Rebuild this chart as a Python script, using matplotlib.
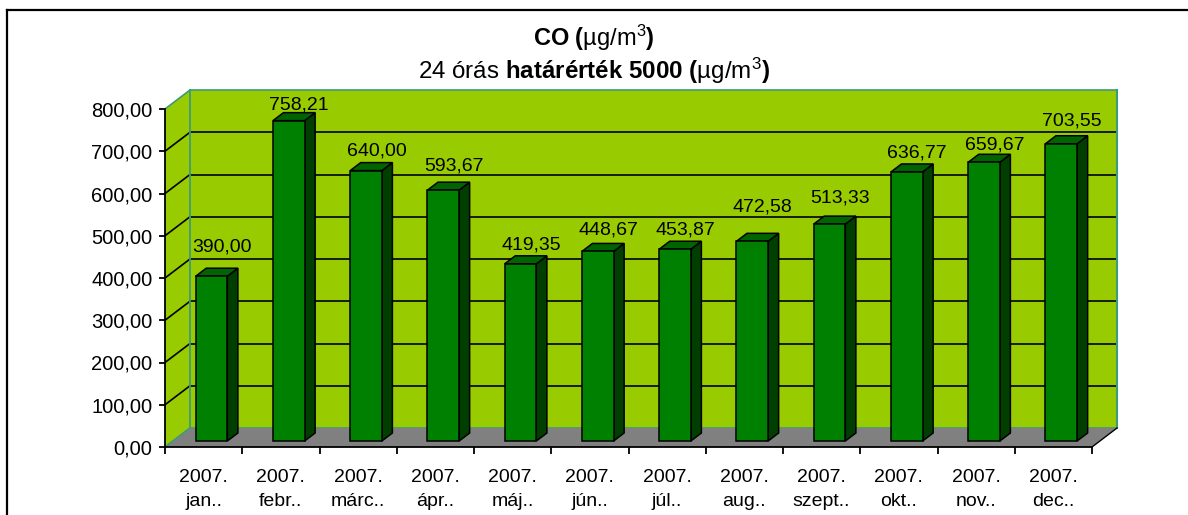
import matplotlib
matplotlib.use("Agg")
import matplotlib.pyplot as plt
from matplotlib.patches import Polygon
from matplotlib.lines import Line2D

# ---- data ----
months = ["jan..", "febr..", "márc..", "ápr..", "máj..", "jún..",
          "júl..", "aug..", "szept..", "okt..", "nov..", "dec.."]
year = "2007."
values = [390.00, 758.21, 640.00, 593.67, 419.35, 448.67,
          453.87, 472.58, 513.33, 636.77, 659.67, 703.55]
value_labels = ["390,00", "758,21", "640,00", "593,67", "419,35", "448,67",
                "453,87", "472,58", "513,33", "636,77", "659,67", "703,55"]
yticks = [0, 100, 200, 300, 400, 500, 600, 700, 800]
ytick_labels = ["0,00", "100,00", "200,00", "300,00", "400,00",
                "500,00", "600,00", "700,00", "800,00"]
# label gap above bar top (pixels), as placed in the original
label_gap_px = [16.6, 3.4, 6.6, 11.4, 6.0, 8.7, 6.7, 21.7, 13.3, 6.0, 5.0, 10.0]

plt.rcParams['font.family'] = ['Liberation Sans', 'DejaVu Sans']
plt.rcParams['mathtext.fontset'] = 'custom'
plt.rcParams['mathtext.rm'] = 'Liberation Sans'
plt.rcParams['mathtext.it'] = 'Liberation Sans:italic'
plt.rcParams['mathtext.bf'] = 'Liberation Sans:bold'

W, H = 1188, 515
fig = plt.figure(figsize=(W / 100, H / 100), dpi=100)
fig.patch.set_facecolor('white')

x0, x1, y0, y1 = 165, 1092, 447, 109
ax = fig.add_axes([x0 / W, (H - y0) / H, (x1 - x0) / W, (y0 - y1) / H])
n = len(values)
ax.set_xlim(0, n)
ax.set_ylim(0, 800)
ax.set_facecolor('none')

DX = 25 / ((x1 - x0) / n)          # depth offset in category units
DY = 19 / ((y0 - y1) / 800)        # depth offset in value units
wall = '#99CC00'
teal = '#3C9C78'
floor = '#808080'

# back wall
ax.add_patch(Polygon([(DX, DY), (n + DX, DY), (n + DX, 800 + DY), (DX, 800 + DY)],
                     closed=True, facecolor=wall, edgecolor='none', clip_on=False, zorder=1))
# side wall
ax.add_patch(Polygon([(0, 0), (DX, DY), (DX, 800 + DY), (0, 800)],
                     closed=True, facecolor=wall, edgecolor='none', clip_on=False, zorder=1))
# gridlines
for g in yticks:
    col = 'black' if 0 < g < 800 else teal
    ax.add_line(Line2D([DX, n + DX], [g + DY, g + DY], color=col, lw=1.2,
                       clip_on=False, zorder=2))
    ax.add_line(Line2D([0, DX], [g, g + DY], color=col, lw=1.2,
                       clip_on=False, zorder=2))
# wall edges
ax.add_line(Line2D([DX, DX], [DY, 800 + DY], color=teal, lw=1.3, clip_on=False, zorder=2))
ax.add_line(Line2D([n + DX, n + DX], [DY, 800 + DY], color=teal, lw=1.5, clip_on=False, zorder=2))
# floor
ax.add_patch(Polygon([(0, 0), (DX, DY), (n + DX, DY), (n, 0)],
                     closed=True, facecolor=floor, edgecolor='none', clip_on=False, zorder=3))
ax.add_line(Line2D([n, n + DX], [0, DY], color='black', lw=1.0, clip_on=False, zorder=3))
ax.add_line(Line2D([0, DX], [0, DY], color=teal, lw=1.0, clip_on=False, zorder=3))

# bars
hw = 0.205
f0, f1 = 0.316, 0.737
front_c, side_c, top_c = '#008000', '#003F00', '#006400'
for k, v in enumerate(values):
    c = k + 0.5
    xl, xr = c - hw, c + hw
    a0x, a0y = f0 * DX, f0 * DY
    a1x, a1y = f1 * DX, f1 * DY
    front = [(xl + a0x, a0y), (xr + a0x, a0y), (xr + a0x, v + a0y), (xl + a0x, v + a0y)]
    side = [(xr + a0x, a0y), (xr + a1x, a1y), (xr + a1x, v + a1y), (xr + a0x, v + a0y)]
    top = [(xl + a0x, v + a0y), (xr + a0x, v + a0y), (xr + a1x, v + a1y), (xl + a1x, v + a1y)]
    for pts, col in ((side, side_c), (top, top_c), (front, front_c)):
        ax.add_patch(Polygon(pts, closed=True, facecolor=col, edgecolor='black',
                             lw=1.1, joinstyle='miter', clip_on=False, zorder=5))
    ax.annotate(value_labels[k], xy=(c + a1x, v + a1y), xytext=(0, label_gap_px[k]),
                textcoords='offset pixels', ha='center', va='baseline',
                fontsize=14, color='black', zorder=6, annotation_clip=False)

# axes
for s in ('top', 'right'):
    ax.spines[s].set_visible(False)
for s in ('left', 'bottom'):
    ax.spines[s].set_linewidth(1.3)
    ax.spines[s].set_zorder(7)
ax.set_yticks(yticks)
ax.set_yticklabels(ytick_labels, fontsize=14.5)
ax.set_xticks(range(n + 1))
ax.set_xticklabels([])
ax.set_xticks([k + 0.5 for k in range(n)], minor=True)
ax.set_xticklabels([f"{year}\n{m}" for m in months], minor=True, fontsize=14,
                   linespacing=1.6)
ax.tick_params(axis='y', which='major', length=4, width=1.3, direction='out', pad=5)
ax.tick_params(axis='x', which='major', length=5, width=1.3, direction='out')
ax.tick_params(axis='x', which='minor', length=0, pad=15.5)

# titles
fig.text(0.5, (H - 45.5) / H,
         r"$\mathbf{CO\ (}\mathrm{µg/m}^{3}\mathbf{)}$",
         ha='center', va='baseline', fontsize=17)
fig.text(0.5, (H - 79) / H,
         r"$\mathrm{24\ órás\ }\mathbf{határérték\ 5000\ (}\mathrm{µg/m}^{3}\mathbf{)}$",
         ha='center', va='baseline', fontsize=17.4)

# chart frame (left and top edges visible)
fig.add_artist(Line2D([7 / W, 7 / W], [0, (H - 10) / H], transform=fig.transFigure,
                      color='black', lw=1.6))
fig.add_artist(Line2D([7 / W, 1], [(H - 10) / H, (H - 10) / H], transform=fig.transFigure,
                      color='black', lw=1.6))

fig.savefig('out.png', dpi=100)
